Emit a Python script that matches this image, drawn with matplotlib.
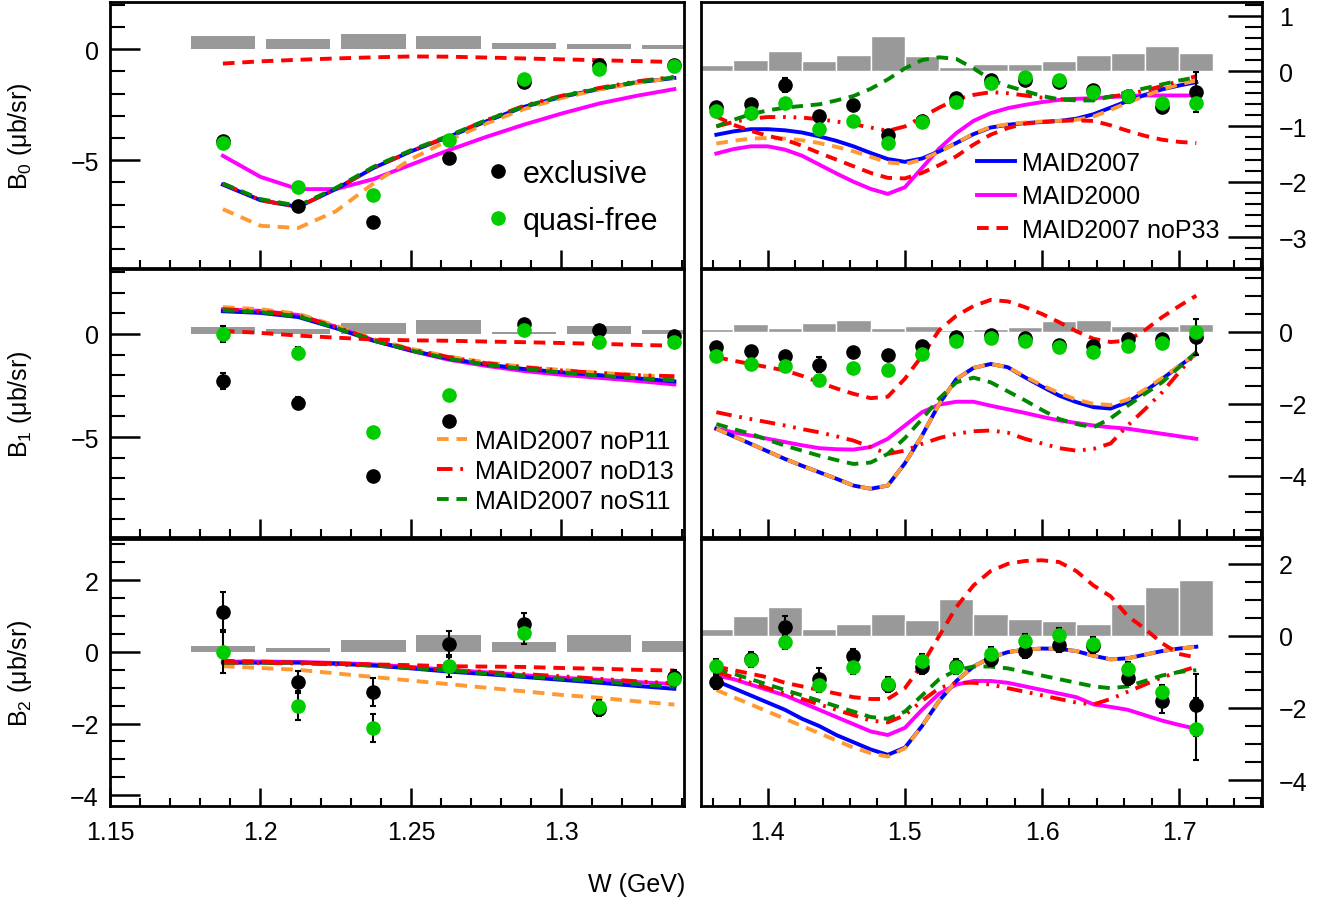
import matplotlib
matplotlib.use("Agg")
import matplotlib.pyplot as plt
from matplotlib.lines import Line2D
from matplotlib.ticker import MultipleLocator

plt.rcParams['font.family'] = ['Liberation Sans', 'DejaVu Sans']
plt.rcParams['mathtext.fontset'] = 'custom'
plt.rcParams['mathtext.rm'] = 'Liberation Sans'
plt.rcParams['mathtext.it'] = 'Liberation Sans:italic'

# ---------------- data ----------------
# W bin centres of the measured points
w_lo = [1.1875, 1.2125, 1.2375, 1.2625, 1.2875, 1.3125, 1.3375]
w_hi = [1.3625, 1.3875, 1.4125, 1.4375, 1.4625, 1.4875, 1.5125, 1.5375,
        1.5625, 1.5875, 1.6125, 1.6375, 1.6625, 1.6875, 1.7125]

# model grids
wc_lo = [1.1875, 1.2, 1.2125, 1.225, 1.2375, 1.25, 1.2625, 1.275, 1.2875,
         1.3, 1.3125, 1.325, 1.3375]
wc_hi = [1.3625, 1.375, 1.3875, 1.4, 1.4125, 1.425, 1.4375, 1.45, 1.4625,
         1.475, 1.4875, 1.5, 1.5125, 1.525, 1.5375, 1.55, 1.5625, 1.575,
         1.5875, 1.6, 1.6125, 1.625, 1.6375, 1.65, 1.6625, 1.675, 1.6875,
         1.7, 1.7125]

# --- B0 ---
b0_exc_lo = [-4.15, -7.07, -7.78, -4.9, -1.5, -0.72, -0.72]
b0_exc_lo_err = [0.1, 0.12, 0.1, 0.1, 0.1, 0.1, 0.1]
b0_qf_lo = [-4.23, -6.2, -6.58, -4.1, -1.35, -0.9, -0.77]
b0_qf_lo_err = [0.1, 0.1, 0.1, 0.1, 0.1, 0.1, 0.1]
b0_sys_lo = [0.59, 0.45, 0.68, 0.59, 0.27, 0.23, 0.18]

b0_exc_hi = [-0.65, -0.6, -0.25, -0.82, -0.62, -1.15, -0.9, -0.48, -0.16,
             -0.16, -0.2, -0.35, -0.45, -0.65, -0.38]
b0_exc_hi_err = [0.05, 0.05, 0.12, 0.1, 0.05, 0.07, 0.05, 0.05, 0.05,
                 0.05, 0.05, 0.05, 0.05, 0.05, 0.36]
b0_qf_hi = [-0.72, -0.75, -0.58, -1.05, -0.9, -1.3, -0.92, -0.55, -0.22,
            -0.11, -0.16, -0.38, -0.45, -0.58, -0.58]
b0_qf_hi_err = [0.05] * 15
b0_sys_hi = [0.11, 0.2, 0.36, 0.19, 0.29, 0.63, 0.28, 0.07, 0.13, 0.12,
             0.18, 0.29, 0.33, 0.45, 0.33]

b0_maid07_lo = [-6.1, -6.8, -7.1, -6.3, -5.35, -4.6, -3.95, -3.25, -2.6, -2.15, -1.8, -1.5, -1.3]
b0_maid00_lo = [-4.8, -5.75, -6.3, -6.3, -5.85, -5.2, -4.55, -3.95, -3.4, -2.9, -2.45, -2.1, -1.8]
b0_nop33_lo = [-0.65, -0.55, -0.48, -0.42, -0.37, -0.33, -0.34, -0.38, -0.42, -0.46, -0.5, -0.54, -0.58]
b0_nop11_lo = [-7.2, -7.95, -8.05, -7.3, -6.05, -4.95, -4.1, -3.35, -2.7, -2.2, -1.82, -1.52, -1.3]
b0_nod13_lo = [-6.05, -6.8, -7.1, -6.3, -5.35, -4.6, -3.92, -3.2, -2.55, -2.1, -1.75, -1.45, -1.25]
b0_nos11_lo = [-6.05, -6.75, -7.05, -6.25, -5.3, -4.55, -3.9, -3.2, -2.58, -2.12, -1.78, -1.48, -1.27]

b0_maid07_hi = [-1.15, -1.09, -1.05, -1.05, -1.07, -1.11, -1.18, -1.26, -1.36, -1.48,
                -1.59, -1.64, -1.58, -1.45, -1.3, -1.14, -1.02, -0.97, -0.94, -0.92,
                -0.9, -0.86, -0.78, -0.66, -0.54, -0.43, -0.33, -0.26, -0.2]
b0_maid00_hi = [-1.49, -1.41, -1.36, -1.36, -1.42, -1.53, -1.69, -1.85, -2.0, -2.13,
                -2.22, -2.1, -1.75, -1.4, -1.12, -0.9, -0.76, -0.67, -0.61, -0.56,
                -0.52, -0.5, -0.49, -0.47, -0.45, -0.44, -0.44, -0.44, -0.44]
b0_nop33_hi = [-0.82, -0.97, -1.08, -1.17, -1.24, -1.35, -1.48, -1.6, -1.72, -1.84,
               -1.93, -1.94, -1.84, -1.7, -1.54, -1.33, -1.15, -1.03, -0.95, -0.92,
               -0.9, -0.89, -0.9, -0.98, -1.08, -1.17, -1.24, -1.28, -1.3]
b0_nop11_hi = [-1.31, -1.26, -1.22, -1.21, -1.22, -1.25, -1.3, -1.37, -1.45, -1.55,
               -1.65, -1.68, -1.6, -1.46, -1.3, -1.13, -1.01, -0.96, -0.93, -0.91,
               -0.9, -0.88, -0.82, -0.7, -0.57, -0.45, -0.33, -0.24, -0.17]
b0_nod13_hi = [-1.0, -0.92, -0.86, -0.83, -0.83, -0.84, -0.87, -0.91, -0.96, -1.02,
               -1.08, -1.0, -0.83, -0.66, -0.51, -0.43, -0.38, -0.4, -0.44, -0.48,
               -0.51, -0.51, -0.5, -0.46, -0.42, -0.35, -0.27, -0.18, -0.09]
b0_nos11_hi = [-1.0, -0.88, -0.78, -0.71, -0.66, -0.63, -0.6, -0.53, -0.45, -0.32,
               -0.15, 0.05, 0.2, 0.25, 0.22, 0.05, -0.15, -0.27, -0.36, -0.45,
               -0.51, -0.53, -0.53, -0.46, -0.38, -0.31, -0.24, -0.17, -0.11]

# --- B1 ---
b1_exc_lo = [-2.28, -3.35, -6.9, -4.22, 0.48, 0.2, -0.1]
b1_exc_lo_err = [0.4, 0.3, 0.15, 0.15, 0.15, 0.15, 0.15]
b1_qf_lo = [0.0, -0.92, -4.76, -2.96, 0.2, -0.38, -0.38]
b1_qf_lo_err = [0.4, 0.3, 0.2, 0.15, 0.15, 0.15, 0.15]
b1_sys_lo = [0.34, 0.24, 0.53, 0.68, 0.08, 0.37, 0.21]

b1_exc_hi = [-0.42, -0.53, -0.66, -0.91, -0.56, -0.63, -0.39, -0.13, -0.08,
             -0.17, -0.35, -0.39, -0.19, -0.19, -0.14]
b1_exc_hi_err = [0.1, 0.1, 0.1, 0.2, 0.1, 0.1, 0.1, 0.1, 0.1, 0.1, 0.1,
                 0.1, 0.1, 0.1, 0.5]
b1_qf_hi = [-0.67, -0.89, -0.95, -1.33, -0.99, -1.07, -0.61, -0.24, -0.17,
            -0.24, -0.42, -0.55, -0.39, -0.31, 0.0]
b1_qf_hi_err = [0.1] * 15
b1_sys_hi = [0.09, 0.21, 0.1, 0.26, 0.33, 0.12, 0.17, 0.06, 0.09, 0.15,
             0.3, 0.32, 0.17, 0.17, 0.23]

b1_maid07_lo = [1.1, 1.02, 0.82, 0.28, -0.33, -0.8, -1.2, -1.48, -1.7, -1.86, -2.0, -2.15, -2.3]
b1_maid00_lo = [1.2, 1.12, 0.92, 0.35, -0.3, -0.82, -1.25, -1.55, -1.8, -1.98, -2.13, -2.28, -2.45]
b1_nop33_lo = [0.15, 0.05, -0.08, -0.18, -0.27, -0.31, -0.33, -0.37, -0.4, -0.44, -0.48, -0.53, -0.57]
b1_nop11_lo = [1.3, 1.2, 0.98, 0.4, -0.25, -0.72, -1.1, -1.38, -1.6, -1.75, -1.88, -2.0, -2.1]
b1_nod13_lo = [1.2, 1.1, 0.9, 0.35, -0.28, -0.75, -1.12, -1.42, -1.62, -1.77, -1.9, -2.0, -2.05]
b1_nos11_lo = [1.15, 1.06, 0.86, 0.3, -0.32, -0.8, -1.2, -1.48, -1.7, -1.87, -2.02, -2.15, -2.25]

b1_maid07_hi = [-2.69, -2.9, -3.11, -3.32, -3.53, -3.72, -3.9, -4.08, -4.27, -4.36,
                -4.27, -3.65, -2.88, -2.0, -1.31, -1.0, -0.89, -0.98, -1.26, -1.52,
                -1.77, -1.95, -2.09, -2.13, -1.95, -1.65, -1.31, -0.95, -0.61]
b1_maid00_hi = [-2.69, -2.79, -2.88, -2.97, -3.06, -3.15, -3.23, -3.26, -3.27, -3.2,
                -2.97, -2.6, -2.23, -2.02, -1.94, -1.94, -2.05, -2.15, -2.25, -2.36,
                -2.46, -2.53, -2.6, -2.65, -2.69, -2.76, -2.83, -2.9, -2.97]
b1_nop33_hi = [-0.7, -0.8, -0.89, -0.98, -1.07, -1.22, -1.4, -1.57, -1.72, -1.84,
               -1.8, -1.3, -0.66, 0.05, 0.45, 0.72, 0.89, 0.85, 0.69, 0.5,
               0.27, 0.02, -0.19, -0.28, -0.24, 0.05, 0.41, 0.72, 1.01]
b1_nop11_hi = [-2.69, -2.9, -3.11, -3.32, -3.53, -3.72, -3.9, -4.08, -4.27, -4.36,
               -4.27, -3.65, -2.88, -2.0, -1.31, -1.0, -0.89, -0.98, -1.24, -1.48,
               -1.7, -1.88, -2.0, -2.03, -1.88, -1.6, -1.28, -0.94, -0.6]
b1_nod13_hi = [-2.23, -2.33, -2.42, -2.51, -2.6, -2.7, -2.79, -2.9, -3.02, -3.2,
               -3.39, -3.3, -3.11, -2.95, -2.83, -2.76, -2.74, -2.8, -2.97, -3.1,
               -3.23, -3.3, -3.25, -3.1, -2.6, -2.15, -1.68, -1.12, -0.56]
b1_nos11_hi = [-2.56, -2.7, -2.83, -3.0, -3.16, -3.3, -3.44, -3.56, -3.67, -3.63,
               -3.39, -2.95, -2.42, -1.85, -1.4, -1.27, -1.4, -1.65, -1.9, -2.17,
               -2.42, -2.56, -2.65, -2.4, -2.05, -1.72, -1.4, -0.98, -0.56]

# --- B2 ---
b2_exc_lo = [1.12, -0.84, -1.12, 0.22, 0.78, -1.6, -0.7]
b2_exc_lo_err = [0.56, 0.3, 0.4, 0.35, 0.3, 0.2, 0.2]
b2_qf_lo = [0.0, -1.5, -2.12, -0.4, 0.53, -1.55, -0.75]
b2_qf_lo_err = [0.6, 0.4, 0.4, 0.3, 0.3, 0.2, 0.2]
b2_sys_lo = [0.17, 0.1, 0.33, 0.47, 0.28, 0.47, 0.3]

b2_exc_hi = [-1.28, -0.64, 0.25, -1.2, -0.56, -1.36, -0.86, -0.83, -0.64, -0.42,
             -0.25, -0.28, -1.17, -1.8, -1.92]
b2_exc_hi_err = [0.2, 0.2, 0.3, 0.3, 0.2, 0.2, 0.2, 0.2, 0.2, 0.2, 0.2,
                 0.2, 0.2, 0.35, 0.85]
b2_qf_hi = [-0.83, -0.67, -0.17, -1.36, -0.86, -1.33, -0.69, -0.86, -0.5, -0.14,
            0.03, -0.22, -0.92, -1.56, -2.58]
b2_qf_hi_err = [0.2] * 14 + [0.85]
b2_sys_hi = [0.19, 0.55, 0.8, 0.19, 0.33, 0.6, 0.44, 1.03, 0.6, 0.47,
             0.42, 0.33, 0.89, 1.36, 1.55]

b2_maid07_lo = [-0.3, -0.3, -0.3, -0.33, -0.38, -0.46, -0.55, -0.62, -0.7, -0.78, -0.86, -0.95, -1.03]
b2_maid00_lo = [-0.27, -0.27, -0.28, -0.31, -0.35, -0.42, -0.5, -0.57, -0.65, -0.72, -0.78, -0.84, -0.9]
b2_nop33_lo = [-0.25, -0.27, -0.3, -0.32, -0.35, -0.37, -0.4, -0.41, -0.42, -0.45, -0.47, -0.5, -0.52]
b2_nop11_lo = [-0.4, -0.45, -0.5, -0.6, -0.7, -0.8, -0.9, -1.0, -1.1, -1.2, -1.28, -1.38, -1.47]
b2_nod13_lo = [-0.3, -0.31, -0.32, -0.35, -0.38, -0.44, -0.5, -0.56, -0.62, -0.68, -0.75, -0.82, -0.88]
b2_nos11_lo = [-0.3, -0.3, -0.3, -0.33, -0.38, -0.45, -0.52, -0.6, -0.68, -0.75, -0.82, -0.9, -0.97]

b2_maid07_hi = [-1.25, -1.45, -1.65, -1.85, -2.05, -2.3, -2.5, -2.75, -2.95, -3.15,
                -3.3, -3.1, -2.5, -1.8, -1.25, -0.85, -0.6, -0.45, -0.38, -0.35,
                -0.36, -0.42, -0.55, -0.65, -0.62, -0.52, -0.42, -0.35, -0.3]
b2_maid00_hi = [-1.1, -1.2, -1.35, -1.5, -1.65, -1.85, -2.05, -2.25, -2.45, -2.65,
                -2.75, -2.55, -2.05, -1.6, -1.35, -1.25, -1.25, -1.3, -1.4, -1.5,
                -1.6, -1.7, -1.9, -1.97, -2.05, -2.2, -2.35, -2.47, -2.58]
b2_nop33_hi = [-0.85, -0.95, -1.05, -1.15, -1.3, -1.4, -1.5, -1.6, -1.7, -1.75,
               -1.75, -1.45, -0.8, 0.0, 0.8, 1.4, 1.8, 2.0, 2.08, 2.1,
               2.05, 1.8, 1.4, 1.1, 0.55, 0.2, -0.2, -0.5, -0.6]
b2_nop11_hi = [-1.5, -1.7, -1.9, -2.1, -2.3, -2.5, -2.7, -2.9, -3.1, -3.25,
               -3.35, -3.12, -2.5, -1.8, -1.25, -0.85, -0.6, -0.45, -0.38, -0.35,
               -0.36, -0.42, -0.55, -0.65, -0.62, -0.52, -0.42, -0.35, -0.3]
b2_nod13_hi = [-1.0, -1.15, -1.3, -1.45, -1.6, -1.75, -1.9, -2.05, -2.2, -2.35,
               -2.4, -2.2, -1.8, -1.45, -1.3, -1.3, -1.35, -1.45, -1.55, -1.65,
               -1.75, -1.85, -1.9, -1.75, -1.55, -1.35, -1.15, -1.0, -0.85]
b2_nos11_hi = [-0.9, -1.05, -1.2, -1.35, -1.5, -1.65, -1.8, -1.95, -2.1, -2.25,
               -2.3, -2.1, -1.65, -1.2, -0.95, -0.85, -0.85, -0.9, -1.0, -1.1,
               -1.2, -1.3, -1.4, -1.45, -1.4, -1.25, -1.1, -1.0, -0.95]

# ---------------- styles ----------------
BLUE, MAG, RED, ORANGE, DGREEN = '#0000ff', '#ff00ff', '#ff0000', '#ff9933', '#008800'
PTGREEN = '#00cc00'
LW = 2.8
models = [  # draw order
    ('MAID2000', 'maid00', dict(color=MAG, ls='-')),
    ('MAID2007', 'maid07', dict(color=BLUE, ls='-')),
    ('MAID2007 noP11', 'nop11', dict(color=ORANGE, ls=(0, (3, 2)))),
    ('MAID2007 noD13', 'nod13', dict(color=RED, ls=(0, (4, 2, 0.7, 2, 0.7, 2)))),
    ('MAID2007 noS11', 'nos11', dict(color=DGREEN, ls=(0, (3, 2)))),
    ('MAID2007 noP33', 'nop33', dict(color=RED, ls=(0, (3, 2)))),
]
style_of = {lab: st for lab, _, st in models}

g = globals()

# ---------------- layout (pixel boxes) ----------------
W, H = 1319, 903
fig = plt.figure(figsize=(W / 100, H / 100), dpi=100)


def box(x0, x1, y0, y1):
    return [x0 / W, 1 - y1 / H, (x1 - x0) / W, (y1 - y0) / H]


rows = [(3, 269), (270, 538), (540, 807)]
cols = [(110, 684), (701, 1262)]
ylims = {('0', 'lo'): (-9.85, 2.12), ('0', 'hi'): (-3.56, 1.25),
         ('1', 'lo'): (-9.85, 3.15), ('1', 'hi'): (-5.7, 1.75),
         ('2', 'lo'): (-4.3, 3.15), ('2', 'hi'): (-4.72, 2.69)}
ymajor = {('0', 'lo'): 5, ('0', 'hi'): 1, ('1', 'lo'): 5, ('1', 'hi'): 2,
          ('2', 'lo'): 2, ('2', 'hi'): 2}
yminor = {('0', 'lo'): 1, ('0', 'hi'): 0.2, ('1', 'lo'): 1, ('1', 'hi'): 0.5,
          ('2', 'lo'): 0.5, ('2', 'hi'): 0.5}

FS = 18
axes = {}
for r, (y0, y1) in enumerate(rows):
    n = str(r)
    for side, (x0, x1) in zip(['lo', 'hi'], cols):
        ax = fig.add_axes(box(x0, x1, y0, y1))
        axes[(n, side)] = ax
        wx = w_lo if side == 'lo' else w_hi
        wc = wc_lo if side == 'lo' else wc_hi
        bw = 0.0215 if side == 'lo' else 0.025

        # systematic error band
        ax.bar(wx, g[f'b{n}_sys_{side}'], width=bw, bottom=0, color='#999999',
               edgecolor='white', linewidth=1.0 if side == 'hi' else 0, zorder=1)

        # model curves
        for lab, key, st in models:
            ax.plot(wc, g[f'b{n}_{key}_{side}'], lw=LW, zorder=2, **st)

        # data points
        ax.errorbar(wx, g[f'b{n}_exc_{side}'], yerr=g[f'b{n}_exc_{side}_err'], fmt='o',
                    color='black', ms=9.5, elinewidth=1.5, capsize=2.5, capthick=1.5, zorder=4)
        ax.errorbar(wx, g[f'b{n}_qf_{side}'], yerr=g[f'b{n}_qf_{side}_err'], fmt='o',
                    mfc=PTGREEN, mec=PTGREEN, ecolor='black', ms=9.5, elinewidth=1.5,
                    capsize=2.5, capthick=1.5, zorder=5)

        if side == 'lo':
            ax.set_xlim(1.15, 1.3407)
            ax.xaxis.set_major_locator(MultipleLocator(0.05))
            ax.xaxis.set_minor_locator(MultipleLocator(0.01))
            ax.tick_params(axis='y', which='major', direction='in', length=21.5,
                           width=1.8, left=True, right=False, labelsize=FS, pad=8)
            ax.tick_params(axis='y', which='minor', direction='in', length=11,
                           width=1.5, left=True, right=False)
        else:
            ax.set_xlim(1.3513, 1.7604)
            ax.xaxis.set_major_locator(MultipleLocator(0.1))
            ax.xaxis.set_minor_locator(MultipleLocator(0.02))
            ax.tick_params(axis='y', which='major', direction='in', length=24.5,
                           width=1.8, left=False, right=True, labelleft=False,
                           labelright=True, labelsize=FS, pad=12)
            ax.tick_params(axis='y', which='minor', direction='in', length=12,
                           width=1.5, left=False, right=True)
        ax.set_ylim(*ylims[(n, side)])
        ax.yaxis.set_major_locator(MultipleLocator(ymajor[(n, side)]))
        ax.yaxis.set_minor_locator(MultipleLocator(yminor[(n, side)]))
        ax.tick_params(axis='x', which='major', direction='in', length=13, width=1.8,
                       top=False, labelsize=FS, pad=10, labelbottom=(r == 2))
        ax.tick_params(axis='x', which='minor', direction='in', length=6, width=1.5, top=False)
        for sp in ax.spines.values():
            sp.set_linewidth(2.0)
        ax.xaxis.set_major_formatter(plt.FuncFormatter(lambda v, p: f'{v:g}'))

        if side == 'lo':
            ax.set_ylabel(f'B$_{n}$ (μb/sr)', fontsize=FS)
            ax.yaxis.set_label_coords(-0.132, 0.5)

fig.text(685 / W, 1 - 885 / H, 'W (GeV)', ha='right', va='center', fontsize=FS)

# ---------------- legends ----------------
ax = axes[('0', 'lo')]
h_pts = [Line2D([], [], ls='none', marker='o', ms=9.5, color='black'),
         Line2D([], [], ls='none', marker='o', ms=9.5, mfc=PTGREEN, mec=PTGREEN)]
ax.legend(h_pts, ['exclusive', 'quasi-free'], loc='upper left', frameon=False,
          bbox_to_anchor=(0.65, 0.41), fontsize=22, handlelength=1.0,
          handletextpad=0.3, labelspacing=0.55, borderpad=0, borderaxespad=0)

ax = axes[('0', 'hi')]
labs = ['MAID2007', 'MAID2000', 'MAID2007 noP33']
ax.legend([Line2D([], [], lw=LW, **style_of[l]) for l in labs], labs,
          loc='upper left', frameon=False, bbox_to_anchor=(0.492, 0.44), fontsize=FS,
          handlelength=1.5, handletextpad=0.3, labelspacing=0.38, borderpad=0,
          borderaxespad=0)

ax = axes[('1', 'lo')]
labs = ['MAID2007 noP11', 'MAID2007 noD13', 'MAID2007 noS11']
ax.legend([Line2D([], [], lw=LW, **style_of[l]) for l in labs], labs,
          loc='upper left', frameon=False, bbox_to_anchor=(0.57, 0.403), fontsize=FS,
          handlelength=1.2, handletextpad=0.32, labelspacing=0.24, borderpad=0,
          borderaxespad=0)

fig.savefig('out.png', dpi=100)
